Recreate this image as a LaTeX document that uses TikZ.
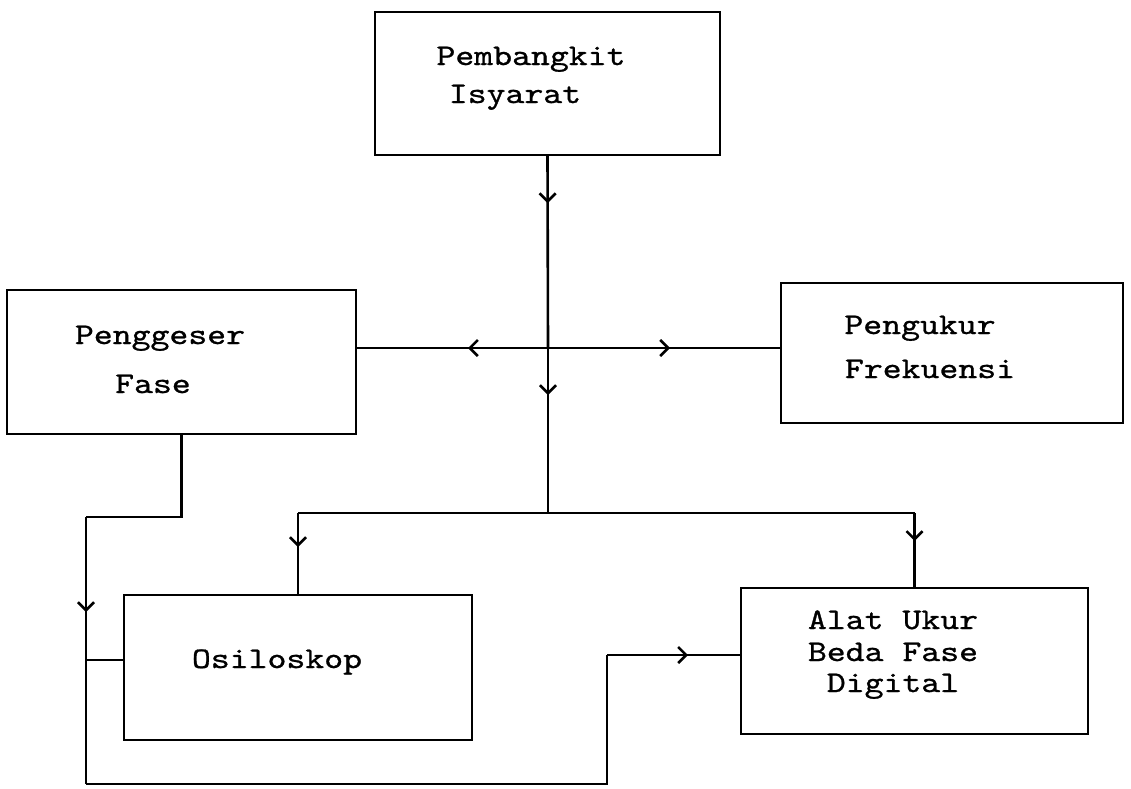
\documentclass[tikz,border=0pt]{standalone}
\usepackage{fontspec}
\usetikzlibrary{arrows.meta,decorations.markings}
\newfontfamily\twfont{lmmono10-regular.otf}[FakeBold=0.8]
\newcommand\tw[1]{\scalebox{1.2}[1]{\twfont\fontsize{30}{30}\selectfont #1}}
\tikzset{
  box/.style={draw, line width=2.4pt, inner sep=0pt},
  txt/.style={anchor=base, inner sep=0pt},
  wire/.style={line width=2.6pt},
  arr/.style={postaction={decorate}, decoration={markings,
     mark=at position #1 with {\arrow{Straight Barb[length=8pt,width=16pt]}}}}
}
\begin{document}
\begin{tikzpicture}[x=1pt,y=-1pt]
\useasboundingbox (0,0) rectangle (1131,788);
% boxes
\node[box, minimum width=345pt, minimum height=143pt] (gen) at (547.5,83.5) {};
\node[box, minimum width=349pt, minimum height=144pt] (shift) at (181.5,362) {};
\node[box, minimum width=342pt, minimum height=140pt] (freq) at (952,353) {};
\node[box, minimum width=348pt, minimum height=145pt] (osc) at (298,667.5) {};
\node[box, minimum width=347pt, minimum height=146pt] (dig) at (914.5,661) {};
% texts
\node[txt] (gen1) at (531,65) {\tw{Pembangkit}};
\node[txt] (gen2) at (515,103) {\tw{Isyarat}};
\node[txt] (sh1) at (160,344) {\tw{Penggeser}};
\node[txt] (sh2) at (153,393) {\tw{Fase}};
\node[txt] (fr1) at (920,334) {\tw{Pengukur}};
\node[txt] (fr2) at (930,378) {\tw{Frekuensi}};
\node[txt] (os1) at (277,668) {\tw{Osiloskop}};
\node[txt] (dg1) at (893,629) {\tw{Alat Ukur}};
\node[txt] (dg2) at (893,661) {\tw{Beda Fase}};
\node[txt] (dg3) at (893,692) {\tw{Digital}};
% junction coordinates
\coordinate (c) at (548,348);
\coordinate (j) at (548,513);
\coordinate (L1) at (86,517);
\coordinate (L2) at (86,660);
\coordinate (L3) at (86,784);
\coordinate (B) at (607,784);
\coordinate (B2) at (607,655);
% main vertical
\draw[wire, arr=47pt] (gen.south) -- (c);
\draw[wire, arr=47pt] (c) -- (j);
\draw[wire, arr=80pt] (c) -- (c -| shift.east);
\draw[wire, arr=122pt] (c) -- (c -| freq.west);
% distribution
\draw[wire] (j -| osc.north) -- (j -| dig.north);
\draw[wire, arr=34pt] (j -| osc.north) -- (osc.north);
\draw[wire, arr=28pt] (j -| dig.north) -- (dig.north);
% phase shifter path
\draw[wire] (shift.south) |- (L1);
\draw[wire, arr=95pt] (L1) -- (L3);
\draw[wire] (L2) -- (L2 -| osc.west);
\draw[wire] (L3) -- (B) -- (B2);
\draw[wire, arr=81pt] (B2) -- (B2 -| dig.west);
\end{tikzpicture}
\end{document}
